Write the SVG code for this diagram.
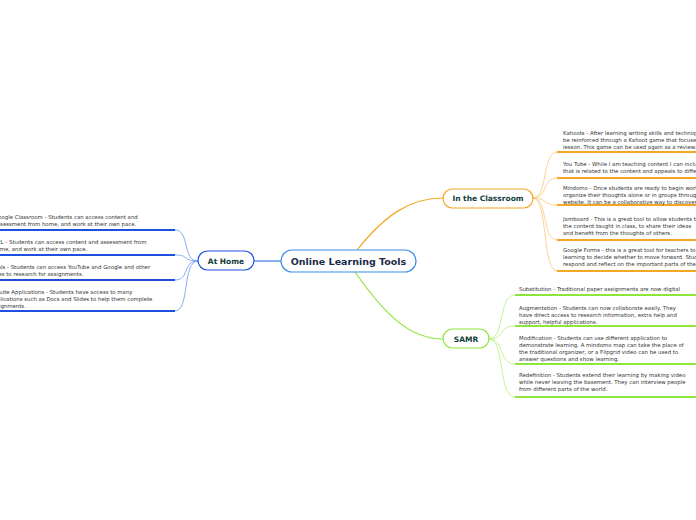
<svg xmlns="http://www.w3.org/2000/svg" width="696" height="520" viewBox="0 0 696 520">
<style>
text{font-family:"DejaVu Sans",sans-serif;font-size:5.4px;fill:#333}
.n{font-size:7.5px;font-weight:bold;fill:#0f3d3a}
.c{font-size:9.5px;font-weight:bold;fill:#1a2a4a}
.o{stroke:#f5a623;fill:none}
.g{stroke:#8fe63a;fill:none}
.b{stroke:#1e50e0;fill:none}
.bl{stroke:#6a96f0;fill:none}
.ol{stroke:#fbc57a;fill:none}
.gl{stroke:#b4f07a;fill:none}
</style>
<rect width="696" height="520" fill="#fff"/>
<g id="connectors">
<path class="o" stroke-width="1.2" d="M357 250 C385 215 410 198 443 198"/>
<path class="g" stroke-width="1.2" d="M355 272 C385 315 410 339 443 339"/>
<path stroke="#3a7ee6" stroke-width="1.2" d="M281 261 H254"/>
<g class="ol" stroke-width="0.8">
<path d="M533 198 C548 198 542 152 557 152"/>
<path d="M533 198 C548 198 542 178 557 178"/>
<path d="M533 198 C548 198 542 205 557 205"/>
<path d="M533 198 C548 198 542 240 557 240"/>
<path d="M533 198 C548 198 542 271 557 271"/>
</g>
<g class="o" stroke-width="1.8">
<path d="M557 152 H696"/><path d="M557 178 H696"/><path d="M557 205 H696"/><path d="M557 240 H696"/><path d="M557 271 H696"/>
</g>
<g class="gl" stroke-width="0.8">
<path d="M489 339 C505 339 498 295 515 295"/>
<path d="M489 339 C505 339 498 326 515 326"/>
<path d="M489 339 C505 339 498 364 515 364"/>
<path d="M489 339 C505 339 498 397 515 397"/>
</g>
<g class="g" stroke-width="1.8">
<path d="M515 295 H696"/><path d="M515 326 H696"/><path d="M515 364 H696"/><path d="M515 397 H696"/>
</g>
<g class="bl" stroke-width="0.8">
<path d="M198 261 C182 261 190 230 175 230"/>
<path d="M198 261 C182 261 190 255 175 255"/>
<path d="M198 261 C182 261 190 280 175 280"/>
<path d="M198 261 C182 261 190 311 175 311"/>
</g>
<g class="b" stroke-width="1.8">
<path d="M0 230 H175"/><path d="M0 255 H175"/><path d="M0 280 H175"/><path d="M0 311 H175"/>
</g>
</g>
<g id="central"><rect x="281" y="250" width="135" height="22" rx="11" fill="#fff" stroke="#3a8ee6" stroke-width="1.2"/><text class="c" x="348.5" y="264.5" text-anchor="middle">Online Learning Tools</text></g>
<g id="classroom"><rect x="443" y="189" width="90" height="19" rx="9.5" fill="#fff" stroke="#f5a623" stroke-width="1.2"/><text class="n" x="488" y="201" text-anchor="middle">In the Classroom</text></g>
<g id="samr"><rect x="443" y="329" width="46" height="19" rx="9.5" fill="#fff" stroke="#8fe63a" stroke-width="1.2"/><text class="n" x="466" y="341.5" text-anchor="middle">SAMR</text></g>
<g id="athome"><rect x="198" y="251" width="56" height="19" rx="9.5" fill="#fff" stroke="#1e50e0" stroke-width="1.2"/><text class="n" x="226" y="263.5" text-anchor="middle">At Home</text></g>
<g id="classroom-items">
<text x="563" y="135">Kahoots - After learning writing skills and techniques, students can</text>
<text x="563" y="142">be reinforced through a Kahoot game that focuses on the</text>
<text x="563" y="149">lesson. This game can be used again as a review.</text>
<text x="563" y="166">You Tube - While I am teaching content I can include a video</text>
<text x="563" y="173">that is related to the content and appeals to different learners.</text>
<text x="563" y="190">Mindomo - Once students are ready to begin work, they can</text>
<text x="563" y="197">organize their thoughts alone or in groups through the</text>
<text x="563" y="204">website. It can be a collaborative way to discover ideas.</text>
<text x="563" y="221">Jamboard - This is a great tool to allow students to respond to</text>
<text x="563" y="228">the content taught in class, to share their ideas</text>
<text x="563" y="235">and benefit from the thoughts of others.</text>
<text x="563" y="252">Google Forms - this is a great tool for teachers to assess</text>
<text x="563" y="259">learning to decide whether to move forward. Students can</text>
<text x="563" y="266">respond and reflect on the important parts of the lesson.</text>
</g>
<g id="samr-items">
<text x="519" y="291">Substitution - Traditional paper assignments are now digital</text>
<text x="519" y="310">Augmentation - Students can now collaborate easily. They</text>
<text x="519" y="317">have direct access to research information, extra help and</text>
<text x="519" y="324">support, helpful applications.</text>
<text x="519" y="340">Modification - Students can use different application to</text>
<text x="519" y="347">demonstrate learning. A mindomo map can take the place of</text>
<text x="519" y="354">the traditional organizer, or a Flipgrid video can be used to</text>
<text x="519" y="361">answer questions and show learning.</text>
<text x="519" y="377">Redefinition - Students extend their learning by making video</text>
<text x="519" y="384">while never leaving the basement. They can interview people</text>
<text x="519" y="391">from different parts of the world.</text>
</g>
<g id="home-items">
<text x="-6" y="219">Google Classroom - Students can access content and</text>
<text x="-6" y="226">assessment from home, and work at their own pace.</text>
<text x="-7" y="244">D2L - Students can access content and assessment from</text>
<text x="-7" y="251">home, and work at their own pace.</text>
<text x="-8" y="269">Tools - Students can access YouTube and Google and other</text>
<text x="-8" y="276">sites to research for assignments.</text>
<text x="-10" y="294">G Suite Applications - Students have access to many</text>
<text x="-10" y="301">applications such as Docs and Slides to help them complete</text>
<text x="-10" y="308">assignments.</text>
</g>
</svg>
